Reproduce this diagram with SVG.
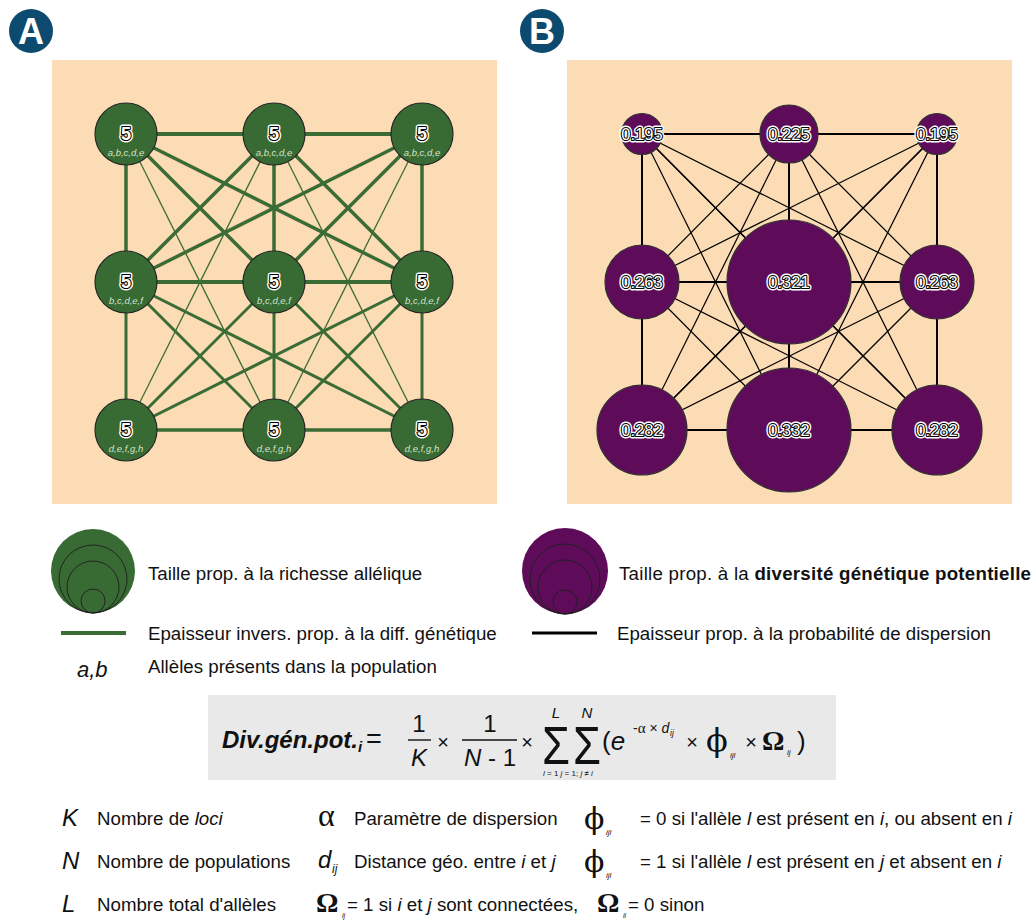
<svg xmlns="http://www.w3.org/2000/svg" width="1035" height="921" viewBox="0 0 1035 921">
<style>
text{font-family:"Liberation Sans",Arial,sans-serif;}
.bg{fill:#fbdcb5;}
.badge{fill:#0d4a6f;}
.badgeT{fill:#fff;font-weight:bold;font-size:36px;text-anchor:middle;}
.gn{fill:#386a33;stroke:#262626;stroke-width:1.2;}
.pn{fill:#5e0c59;stroke:#303030;stroke-width:1.2;}
.ge{stroke:#3b6c35;fill:none;}
.be{stroke:#000;fill:none;}
.halo{fill:#fff;stroke:#fff;stroke-width:5;stroke-linejoin:round;text-anchor:middle;}
.ol{fill:#fff;stroke:#000;stroke-width:2.2;stroke-linejoin:round;text-anchor:middle;}
.wt{fill:#fff;text-anchor:middle;}
.five{font-size:18px;font-weight:bold;}
.num{font-size:16.5px;}
.al{fill:#d5e3cd;font-style:italic;font-size:9.5px;text-anchor:middle;}
.lg{fill:#111;}
.it{font-style:italic;}
.bd{font-weight:bold;}
.fm{font-size:24px;fill:#111;}
.mid{text-anchor:middle;}
.sym{font-family:"Liberation Serif","DejaVu Serif",serif;fill:#111;}
.phi{font-family:"DejaVu Serif","Liberation Serif",serif;fill:#111;}
</style>

<!-- badges -->
<g id="badgeA"><circle class="badge" cx="31" cy="31" r="22"/><text class="badgeT" x="31" y="44">A</text></g>
<g id="badgeB"><circle class="badge" cx="542" cy="31" r="22"/><text class="badgeT" x="542" y="44">B</text></g>

<!-- panel backgrounds -->
<rect class="bg" x="52" y="60" width="445" height="444"/>
<rect class="bg" x="567" y="60" width="445" height="444"/>

<!-- Panel A connectors -->
<g id="edgesA" class="ge">
<g stroke-width="1.3">
<line x1="126" y1="134" x2="126" y2="430"/><line x1="126" y1="134" x2="274" y2="430"/><line x1="126" y1="134" x2="422" y2="430"/>
<line x1="274" y1="134" x2="126" y2="430"/><line x1="274" y1="134" x2="274" y2="430"/><line x1="274" y1="134" x2="422" y2="430"/>
<line x1="422" y1="134" x2="126" y2="430"/><line x1="422" y1="134" x2="274" y2="430"/><line x1="422" y1="134" x2="422" y2="430"/>
</g>
<g stroke-width="3">
<line x1="126" y1="282" x2="126" y2="430"/><line x1="126" y1="282" x2="274" y2="430"/><line x1="126" y1="282" x2="422" y2="430"/>
<line x1="274" y1="282" x2="126" y2="430"/><line x1="274" y1="282" x2="274" y2="430"/><line x1="274" y1="282" x2="422" y2="430"/>
<line x1="422" y1="282" x2="126" y2="430"/><line x1="422" y1="282" x2="274" y2="430"/><line x1="422" y1="282" x2="422" y2="430"/>
</g>
<g stroke-width="3.5">
<line x1="126" y1="134" x2="126" y2="282"/><line x1="126" y1="134" x2="274" y2="282"/><line x1="126" y1="134" x2="422" y2="282"/>
<line x1="274" y1="134" x2="126" y2="282"/><line x1="274" y1="134" x2="274" y2="282"/><line x1="274" y1="134" x2="422" y2="282"/>
<line x1="422" y1="134" x2="126" y2="282"/><line x1="422" y1="134" x2="274" y2="282"/><line x1="422" y1="134" x2="422" y2="282"/>
</g>
<g stroke-width="4">
<line x1="126" y1="134" x2="422" y2="134"/><line x1="126" y1="282" x2="422" y2="282"/>
</g>
<g stroke-width="3.6">
<line x1="126" y1="430" x2="422" y2="430"/>
</g>
</g>

<!-- Panel A nodes -->
<g id="A_n1"><circle class="gn" cx="126" cy="134" r="31"/><text class="five halo" x="126" y="140">5</text><text class="five ol" x="126" y="140">5</text><text class="five wt" x="126" y="140">5</text><text class="al" x="126" y="156">a,b,c,d,e</text></g>
<g id="A_n2"><circle class="gn" cx="274" cy="134" r="31"/><text class="five halo" x="274" y="140">5</text><text class="five ol" x="274" y="140">5</text><text class="five wt" x="274" y="140">5</text><text class="al" x="274" y="156">a,b,c,d,e</text></g>
<g id="A_n3"><circle class="gn" cx="422" cy="134" r="31"/><text class="five halo" x="422" y="140">5</text><text class="five ol" x="422" y="140">5</text><text class="five wt" x="422" y="140">5</text><text class="al" x="422" y="156">a,b,c,d,e</text></g>
<g id="A_n4"><circle class="gn" cx="126" cy="282" r="31"/><text class="five halo" x="126" y="288">5</text><text class="five ol" x="126" y="288">5</text><text class="five wt" x="126" y="288">5</text><text class="al" x="126" y="304">b,c,d,e,f</text></g>
<g id="A_n5"><circle class="gn" cx="274" cy="282" r="31"/><text class="five halo" x="274" y="288">5</text><text class="five ol" x="274" y="288">5</text><text class="five wt" x="274" y="288">5</text><text class="al" x="274" y="304">b,c,d,e,f</text></g>
<g id="A_n6"><circle class="gn" cx="422" cy="282" r="31"/><text class="five halo" x="422" y="288">5</text><text class="five ol" x="422" y="288">5</text><text class="five wt" x="422" y="288">5</text><text class="al" x="422" y="304">b,c,d,e,f</text></g>
<g id="A_n7"><circle class="gn" cx="126" cy="430" r="31"/><text class="five halo" x="126" y="436">5</text><text class="five ol" x="126" y="436">5</text><text class="five wt" x="126" y="436">5</text><text class="al" x="126" y="452">d,e,f,g,h</text></g>
<g id="A_n8"><circle class="gn" cx="274" cy="430" r="31"/><text class="five halo" x="274" y="436">5</text><text class="five ol" x="274" y="436">5</text><text class="five wt" x="274" y="436">5</text><text class="al" x="274" y="452">d,e,f,g,h</text></g>
<g id="A_n9"><circle class="gn" cx="422" cy="430" r="31"/><text class="five halo" x="422" y="436">5</text><text class="five ol" x="422" y="436">5</text><text class="five wt" x="422" y="436">5</text><text class="al" x="422" y="452">d,e,f,g,h</text></g>

<!-- Panel B connectors -->
<g id="edgesB" class="be">
<g stroke-width="1.2">
<line x1="642" y1="134" x2="937" y2="134"/><line x1="642" y1="282" x2="937" y2="282"/><line x1="642" y1="430" x2="937" y2="430"/>
<line x1="642" y1="134" x2="642" y2="430"/><line x1="789" y1="134" x2="789" y2="430"/><line x1="937" y1="134" x2="937" y2="430"/>
<line x1="642" y1="134" x2="789" y2="282"/><line x1="642" y1="134" x2="937" y2="282"/><line x1="642" y1="134" x2="789" y2="430"/><line x1="642" y1="134" x2="937" y2="430"/>
<line x1="789" y1="134" x2="642" y2="282"/><line x1="789" y1="134" x2="937" y2="282"/><line x1="789" y1="134" x2="642" y2="430"/><line x1="789" y1="134" x2="937" y2="430"/>
<line x1="937" y1="134" x2="642" y2="282"/><line x1="937" y1="134" x2="789" y2="282"/><line x1="937" y1="134" x2="642" y2="430"/><line x1="937" y1="134" x2="789" y2="430"/>
<line x1="642" y1="282" x2="789" y2="430"/><line x1="642" y1="282" x2="937" y2="430"/>
<line x1="789" y1="282" x2="642" y2="430"/><line x1="789" y1="282" x2="937" y2="430"/>
<line x1="937" y1="282" x2="642" y2="430"/><line x1="937" y1="282" x2="789" y2="430"/>
</g>
<g stroke-width="1.9">
<line x1="642" y1="134" x2="937" y2="134"/><line x1="642" y1="282" x2="937" y2="282"/><line x1="642" y1="430" x2="937" y2="430"/>
<line x1="642" y1="134" x2="642" y2="430"/><line x1="789" y1="134" x2="789" y2="430"/><line x1="937" y1="134" x2="937" y2="430"/>
</g>
</g>

<!-- Panel B nodes -->
<g id="B_n1"><circle class="pn" cx="642" cy="134" r="20.5"/><text class="num halo" x="642" y="140">0.195</text><text class="num ol" x="642" y="140">0.195</text><text class="num wt" x="642" y="140">0.195</text></g>
<g id="B_n2"><circle class="pn" cx="789" cy="134" r="29"/><text class="num halo" x="789" y="140">0.225</text><text class="num ol" x="789" y="140">0.225</text><text class="num wt" x="789" y="140">0.225</text></g>
<g id="B_n3"><circle class="pn" cx="937" cy="134" r="20.5"/><text class="num halo" x="937" y="140">0.195</text><text class="num ol" x="937" y="140">0.195</text><text class="num wt" x="937" y="140">0.195</text></g>
<g id="B_n4"><circle class="pn" cx="642" cy="282" r="37"/><text class="num halo" x="642" y="288">0.263</text><text class="num ol" x="642" y="288">0.263</text><text class="num wt" x="642" y="288">0.263</text></g>
<g id="B_n5"><circle class="pn" cx="789" cy="282" r="62"/><text class="num halo" x="789" y="288">0.321</text><text class="num ol" x="789" y="288">0.321</text><text class="num wt" x="789" y="288">0.321</text></g>
<g id="B_n6"><circle class="pn" cx="937" cy="282" r="37"/><text class="num halo" x="937" y="288">0.263</text><text class="num ol" x="937" y="288">0.263</text><text class="num wt" x="937" y="288">0.263</text></g>
<g id="B_n7"><circle class="pn" cx="642" cy="430" r="45"/><text class="num halo" x="642" y="436">0.282</text><text class="num ol" x="642" y="436">0.282</text><text class="num wt" x="642" y="436">0.282</text></g>
<g id="B_n8"><circle class="pn" cx="789" cy="430" r="62"/><text class="num halo" x="789" y="436">0.332</text><text class="num ol" x="789" y="436">0.332</text><text class="num wt" x="789" y="436">0.332</text></g>
<g id="B_n9"><circle class="pn" cx="937" cy="430" r="45"/><text class="num halo" x="937" y="436">0.282</text><text class="num ol" x="937" y="436">0.282</text><text class="num wt" x="937" y="436">0.282</text></g>

<!-- Legend A -->
<g id="legendA" font-size="18.7">
<circle cx="93" cy="571" r="42" fill="#386a33"/>
<circle cx="93" cy="579" r="34" fill="none" stroke="#1e1e1e" stroke-width="0.9"/>
<circle cx="93" cy="587" r="26" fill="none" stroke="#1e1e1e" stroke-width="0.9"/>
<circle cx="93" cy="601" r="12" fill="none" stroke="#1e1e1e" stroke-width="0.9"/>
<text class="lg" x="148" y="580">Taille prop. à la richesse allélique</text>
<line x1="61" y1="633" x2="126" y2="633" stroke="#3b6c35" stroke-width="4"/>
<text class="lg" x="148" y="640">Epaisseur invers. prop. à la diff. génétique</text>
<text class="lg it" x="77" y="677" style="font-size:22px">a,b</text>
<text class="lg" x="148" y="673">Allèles présents dans la population</text>
</g>

<!-- Legend B -->
<g id="legendB" font-size="18.7">
<circle cx="565" cy="571" r="43" fill="#5e0c59"/>
<circle cx="565" cy="579" r="35" fill="none" stroke="#1e1e1e" stroke-width="0.9"/>
<circle cx="565" cy="587" r="27" fill="none" stroke="#1e1e1e" stroke-width="0.9"/>
<circle cx="565" cy="602" r="12" fill="none" stroke="#1e1e1e" stroke-width="0.9"/>
<text class="lg" x="619" y="580" textLength="412" lengthAdjust="spacing">Taille prop. à la <tspan class="bd">diversité génétique potentielle</tspan></text>
<line x1="532" y1="633" x2="597" y2="633" stroke="#000" stroke-width="3"/>
<text class="lg" x="617" y="640">Epaisseur prop. à la probabilité de dispersion</text>
</g>

<!-- Formula -->
<g id="formula">
<rect x="208" y="695" width="628" height="85" fill="#e9e9e9"/>
<text class="fm it bd" x="222" y="748">Div.gén.pot.</text>
<text class="it bd" x="358" y="752" font-size="15" fill="#111">i</text>
<text x="366" y="748" font-size="27" fill="#111">=</text>
<text class="fm mid" x="419" y="732">1</text>
<line x1="408" y1="740" x2="431" y2="740" stroke="#111" stroke-width="1.4"/>
<text class="fm mid it" x="419" y="766">K</text>
<text class="mid" x="443" y="749" font-size="20" fill="#111">×</text>
<text class="fm mid" x="490" y="732">1</text>
<line x1="462" y1="740" x2="517" y2="740" stroke="#111" stroke-width="1.4"/>
<text class="fm mid" x="490" y="766"><tspan class="it">N</tspan> - 1</text>
<text class="mid" x="527" y="749" font-size="20" fill="#111">×</text>
<text class="mid" x="556" y="764" font-size="54" fill="#111" textLength="28" lengthAdjust="spacingAndGlyphs">Σ</text>
<text class="mid it" x="556" y="718" font-size="15" fill="#111">L</text>
<text class="mid" x="587" y="764" font-size="54" fill="#111" textLength="28" lengthAdjust="spacingAndGlyphs">Σ</text>
<text class="mid it" x="587" y="718" font-size="15" fill="#111">N</text>
<text x="543" y="776" font-size="8" fill="#111"><tspan class="it">l</tspan> = 1 <tspan class="it">j</tspan> = 1; <tspan class="it">j</tspan> ≠ <tspan class="it">i</tspan></text>
<text x="602" y="750" font-size="26" fill="#111">(<tspan class="it">e</tspan></text>
<text x="633" y="733" font-size="14" fill="#111">-<tspan class="sym" font-size="15">α</tspan> × <tspan class="it">d</tspan></text>
<text class="it" x="670" y="736" font-size="8.5" fill="#111">ij</text>
<text class="mid" x="692" y="749" font-size="20" fill="#111">×</text>
<text class="phi" x="706" y="751" font-size="32">ϕ</text>
<text class="it" x="730" y="758" font-size="8" fill="#111">ijl</text>
<text class="mid" x="751" y="749" font-size="20" fill="#111">×</text>
<text class="sym" x="762" y="750" font-size="28" font-weight="bold">Ω</text>
<text class="it" x="787" y="755" font-size="8" fill="#111">ij</text>
<text x="797" y="750" font-size="26" fill="#111">)</text>
</g>

<!-- Definitions -->
<g id="definitions" font-size="18.7">
<text class="it" x="62" y="826" style="font-size:24px" fill="#111">K</text>
<text class="lg" x="97" y="825">Nombre de <tspan class="it">loci</tspan></text>
<text class="sym" x="318" y="826" style="font-size:32px">α</text>
<text class="lg" x="354" y="825">Paramètre de dispersion</text>
<text class="phi" x="584" y="829" style="font-size:30px">ϕ</text>
<text class="it" x="606" y="835" style="font-size:8px" fill="#111">ijl</text>
<text class="lg" x="640" y="825">= 0 si l'allèle <tspan class="it">l</tspan> est présent en <tspan class="it">i</tspan>, ou absent en <tspan class="it">i</tspan></text>

<text class="it" x="62" y="869" style="font-size:24px" fill="#111">N</text>
<text class="lg" x="97" y="868">Nombre de populations</text>
<text class="it" x="318" y="868" style="font-size:24px" fill="#111">d</text>
<text class="it" x="332" y="873" style="font-size:12px" fill="#111">ij</text>
<text class="lg" x="354" y="868">Distance géo. entre <tspan class="it">i</tspan> et <tspan class="it">j</tspan></text>
<text class="phi" x="584" y="872" style="font-size:30px">ϕ</text>
<text class="it" x="606" y="878" style="font-size:8px" fill="#111">ijl</text>
<text class="lg" x="640" y="868">= 1 si l'allèle <tspan class="it">l</tspan> est présent en <tspan class="it">j</tspan> et absent en <tspan class="it">i</tspan></text>

<text class="it" x="62" y="912" style="font-size:24px" fill="#111">L</text>
<text class="lg" x="97" y="911">Nombre total d'allèles</text>
<text class="sym" x="316" y="912" style="font-size:28px" font-weight="bold">Ω</text>
<text class="it" x="342" y="918" style="font-size:7px" fill="#111">ij</text>
<text class="lg" x="347" y="911">= 1 si <tspan class="it">i</tspan> et <tspan class="it">j</tspan> sont connectées,</text>
<text class="sym" x="597" y="912" style="font-size:28px" font-weight="bold">Ω</text>
<text class="it" x="623" y="918" style="font-size:7px" fill="#111">ii</text>
<text class="lg" x="628" y="911">= 0 sinon</text>
</g>
</svg>
